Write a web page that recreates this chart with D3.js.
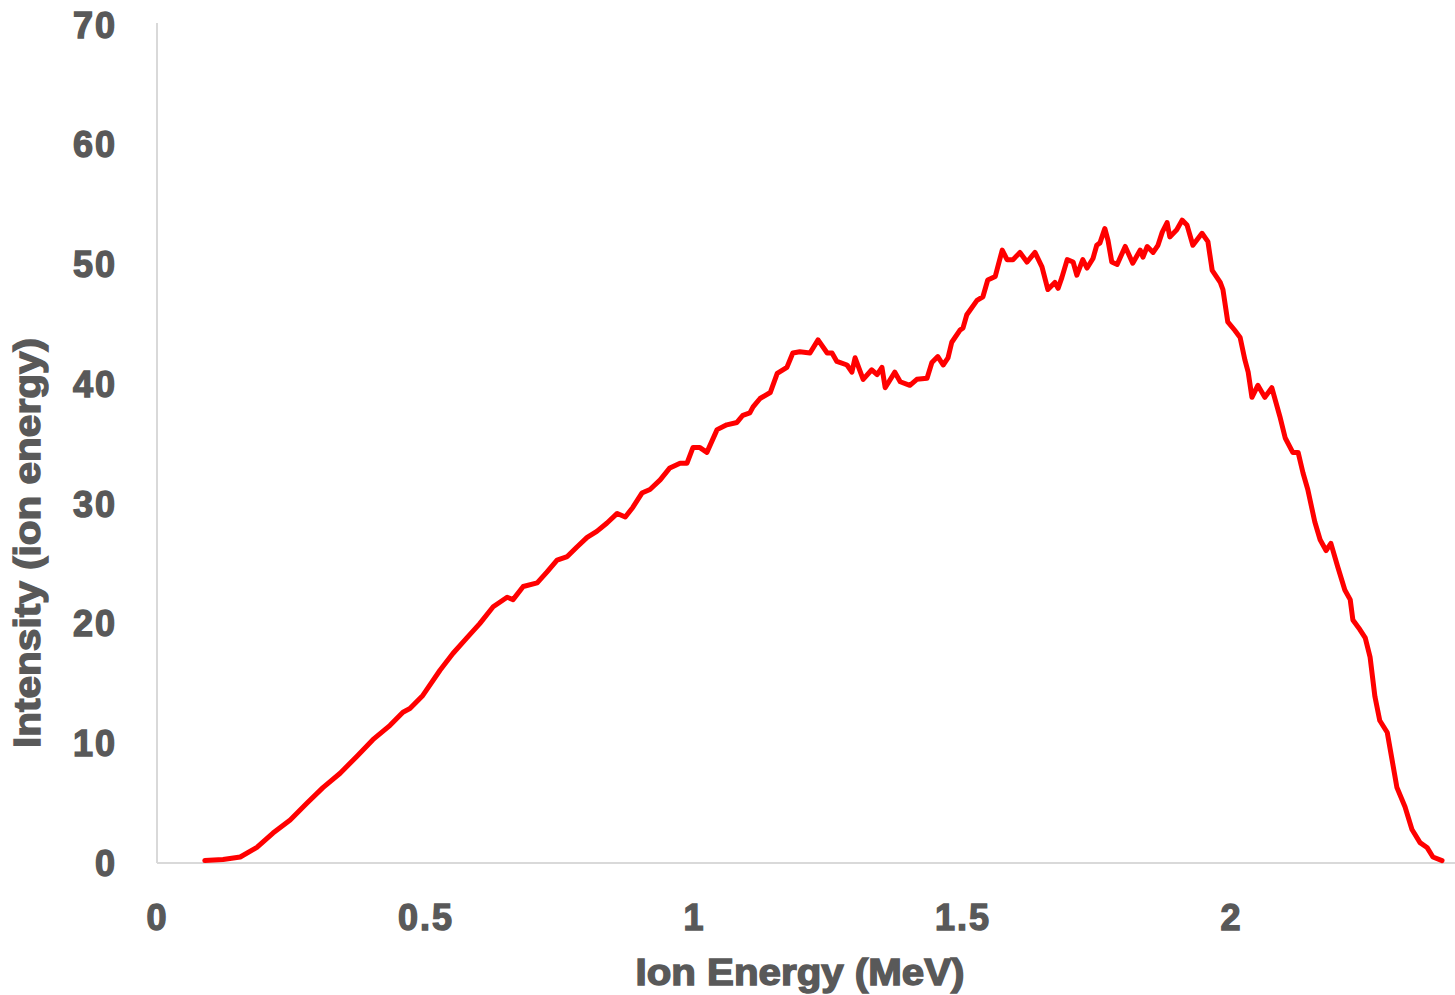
<!DOCTYPE html>
<html>
<head>
<meta charset="utf-8">
<script src="https://cdn.jsdelivr.net/npm/d3@7.9.0/dist/d3.min.js"></script>
<style>
  html, body { margin: 0; padding: 0; background: #fff; }
  svg { display: block; }
  .lbl { font-family: "Liberation Sans", Arial, sans-serif; font-weight: 700; fill: #595959; stroke: #595959; stroke-width: 1.4px; }
</style>
</head>
<body>
<svg id="chart" width="1455" height="995"></svg>
<script>
// DATA
const energy = [
  0.089, 0.123, 0.155, 0.186, 0.216, 0.248, 0.279, 0.309, 0.341, 0.372,
  0.402, 0.434, 0.458, 0.471, 0.495, 0.527, 0.551, 0.577, 0.601, 0.626,
  0.652, 0.663, 0.682, 0.708, 0.726, 0.745, 0.764, 0.782, 0.801, 0.819,
  0.838, 0.857, 0.872, 0.886, 0.903, 0.918, 0.937, 0.955, 0.974, 0.987,
  0.998, 1.011, 1.024, 1.043, 1.061, 1.080, 1.091, 1.104, 1.110, 1.123,
  1.142, 1.155, 1.173, 1.184, 1.197, 1.216, 1.231, 1.248, 1.257, 1.266,
  1.285, 1.294, 1.300, 1.315, 1.331, 1.341, 1.350, 1.356, 1.374, 1.384,
  1.402, 1.415, 1.434, 1.443, 1.454, 1.464, 1.473, 1.480, 1.495, 1.501,
  1.508, 1.527, 1.538, 1.547, 1.561, 1.574, 1.583, 1.594, 1.607, 1.620,
  1.635, 1.648, 1.659, 1.672, 1.678, 1.685, 1.695, 1.706, 1.713, 1.724,
  1.732, 1.743, 1.750, 1.756, 1.765, 1.771, 1.778, 1.788, 1.803, 1.817,
  1.831, 1.836, 1.844, 1.855, 1.864, 1.872, 1.881, 1.886, 1.899, 1.909,
  1.918, 1.929, 1.946, 1.957, 1.965, 1.980, 1.985, 1.994, 2.007, 2.017,
  2.026, 2.032, 2.039, 2.050, 2.063, 2.076, 2.091, 2.101, 2.115, 2.125,
  2.134, 2.143, 2.156, 2.166, 2.177, 2.186, 2.199, 2.212, 2.222, 2.227,
  2.240, 2.250, 2.259, 2.268, 2.277, 2.291, 2.300, 2.309, 2.324, 2.337,
  2.352, 2.365, 2.376, 2.393
];
const intensity = [
  0.2, 0.3, 0.5, 1.3, 2.5, 3.6, 5.0, 6.3, 7.5, 8.9,
  10.3, 11.5, 12.6, 12.9, 14.0, 16.1, 17.5, 18.8, 20.0, 21.4,
  22.2, 22.0, 23.1, 23.4, 24.3, 25.3, 25.6, 26.4, 27.2, 27.7,
  28.4, 29.2, 28.9, 29.7, 30.9, 31.2, 32.0, 33.0, 33.4, 33.4,
  34.7, 34.7, 34.3, 36.2, 36.6, 36.8, 37.4, 37.6, 38.1, 38.8,
  39.3, 40.9, 41.4, 42.6, 42.7, 42.6, 43.7, 42.6, 42.6, 41.9,
  41.6, 41.0, 42.2, 40.4, 41.2, 40.8, 41.4, 39.7, 41.0, 40.2,
  39.9, 40.4, 40.5, 41.8, 42.3, 41.6, 42.2, 43.5, 44.5, 44.7,
  45.8, 47.0, 47.3, 48.7, 49.0, 51.2, 50.4, 50.4, 51.0, 50.2,
  51.0, 49.8, 47.9, 48.5, 48.0, 48.9, 50.4, 50.2, 49.1, 50.4,
  49.7, 50.5, 51.6, 51.8, 53.0, 52.0, 50.2, 50.0, 51.5, 50.1,
  51.2, 50.6, 51.5, 51.0, 51.6, 52.7, 53.5, 52.3, 52.9, 53.7,
  53.3, 51.6, 52.6, 51.9, 49.5, 48.5, 47.9, 45.2, 44.5, 43.9,
  42.0, 41.0, 38.9, 39.9, 38.9, 39.7, 37.3, 35.5, 34.3, 34.3,
  32.6, 31.2, 28.5, 27.0, 26.1, 26.7, 24.7, 22.8, 22.0, 20.3,
  19.5, 18.8, 17.2, 13.9, 11.9, 10.9, 8.6, 6.3, 4.7, 2.8,
  1.7, 1.3, 0.5, 0.2
];
const xTicks = [0, 0.5, 1, 1.5, 2];
const yTicks = [0, 10, 20, 30, 40, 50, 60, 70];
const xTitle = 'Ion Energy (MeV)';
const yTitle = 'Intensity (ion energy)';

const data = energy.map((e, i) => ({ x: e, y: intensity[i] }));

const svg = d3.select('#chart');

// scales
const x = d3.scaleLinear().domain([0, 2.4]).range([157, 157 + 537 * 2.4]);
const y = d3.scaleLinear().domain([0, 70]).range([863, 25]);

// axis lines
svg.append('line')
  .attr('x1', 157).attr('x2', 1455)
  .attr('y1', y(0)).attr('y2', y(0))
  .attr('stroke', '#d9d9d9').attr('stroke-width', 2);
svg.append('line')
  .attr('x1', 157).attr('x2', 157)
  .attr('y1', 23).attr('y2', y(0))
  .attr('stroke', '#d9d9d9').attr('stroke-width', 2);

// y axis labels
const gy = svg.append('g')
  .attr('transform', 'translate(157,0)')
  .call(d3.axisLeft(y).tickValues(yTicks).tickSize(0).tickPadding(40));
gy.select('.domain').remove();
gy.selectAll('text')
  .attr('class', 'lbl')
  .attr('font-size', 36)
  .attr('letter-spacing', 2)
  .attr('dy', '0.34em');

// x axis labels
const gx = svg.append('g')
  .attr('transform', `translate(0,${y(0)})`)
  .call(d3.axisBottom(x).tickValues(xTicks).tickSize(0).tickFormat(d => String(d)));
gx.select('.domain').remove();
gx.selectAll('text')
  .attr('class', 'lbl')
  .attr('font-size', 36)
  .attr('letter-spacing', 2)
  .attr('y', 55)
  .attr('dy', '0.34em');

// line
const line = d3.line().x(d => x(d.x)).y(d => y(d.y));
svg.append('path')
  .datum(data)
  .attr('fill', 'none')
  .attr('stroke', '#ff0000')
  .attr('stroke-width', 5)
  .attr('stroke-linejoin', 'round')
  .attr('stroke-linecap', 'round')
  .attr('d', line);

// titles
svg.append('text')
  .attr('class', 'lbl')
  .attr('x', 800).attr('y', 973)
  .attr('dy', '0.34em')
  .attr('text-anchor', 'middle')
  .attr('font-size', 36)
  .attr('textLength', 329)
  .attr('lengthAdjust', 'spacingAndGlyphs')
  .text(xTitle);

svg.append('text')
  .attr('class', 'lbl')
  .attr('transform', 'translate(28,543) rotate(-90)')
  .attr('dy', '0.34em')
  .attr('text-anchor', 'middle')
  .attr('font-size', 36)
  .attr('textLength', 410)
  .attr('lengthAdjust', 'spacingAndGlyphs')
  .text(yTitle);
</script>
</body>
</html>
